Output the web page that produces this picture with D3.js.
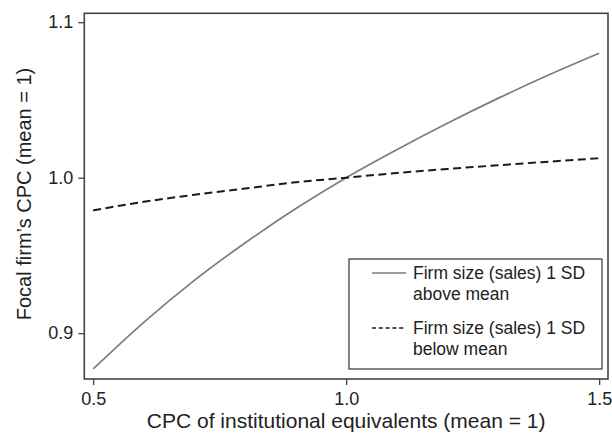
<!DOCTYPE html>
<html>
<head>
<meta charset="utf-8">
<script src="https://cdn.jsdelivr.net/npm/d3@7"></script>
<style>
  html, body { margin: 0; padding: 0; background: #fff; }
  svg { display: block; }
  text { font-family: "Liberation Sans", Arial, Helvetica, sans-serif; fill: #222; }
</style>
</head>
<body>
<svg id="chart" width="612" height="443"></svg>
<script>
// CPC of institutional equivalents (mean = 1)
const xValues = [0.5, 0.6, 0.7, 0.8, 0.9, 1.0, 1.1, 1.2, 1.3, 1.4, 1.5];
// Focal firm's CPC, firm size 1 SD above mean
const aboveMean = [0.877, 0.907, 0.934, 0.958, 0.980, 1.000, 1.018, 1.035, 1.051, 1.066, 1.080];
// Focal firm's CPC, firm size 1 SD below mean
const belowMean = [0.979, 0.9845, 0.989, 0.993, 0.997, 1.000, 1.003, 1.0056, 1.008, 1.0103, 1.0125];

const xTicks = [0.5, 1.0, 1.5];
const yTicks = [0.9, 1.0, 1.1];
const legendLabels = [
  ["Firm size (sales) 1 SD", "above mean"],
  ["Firm size (sales) 1 SD", "below mean"]
];

const svg = d3.select("#chart");
const plot = { left: 84.3, right: 608, top: 13.3, bottom: 379 };

const x = d3.scaleLinear().domain([0.4825, 1.5175]).range([plot.left, plot.right]);
const y = d3.scaleLinear().domain([0.87055, 1.10572]).range([plot.bottom, plot.top]);

const fmt = d3.format(".1f");
const axisColor = "#444";
const fontFamily = '"Liberation Sans", Arial, Helvetica, sans-serif';

// axes (ticks outside the frame)
const gx = svg.append("g")
  .attr("transform", `translate(0,${plot.bottom})`)
  .call(d3.axisBottom(x).tickValues(xTicks).tickFormat(fmt).tickSize(6).tickSizeOuter(0).tickPadding(7));
const gy = svg.append("g")
  .attr("transform", `translate(${plot.left},0)`)
  .call(d3.axisLeft(y).tickValues(yTicks).tickFormat(fmt).tickSize(6).tickSizeOuter(0).tickPadding(5));

[gx, gy].forEach(g => {
  g.select(".domain").remove();
  g.selectAll(".tick line").attr("stroke", axisColor).attr("stroke-width", 1.3);
  g.selectAll(".tick text")
    .style("font-family", fontFamily)
    .style("font-size", "18px")
    .attr("fill", "#222");
});

// plot frame
svg.append("rect")
  .attr("x", plot.left).attr("y", plot.top)
  .attr("width", plot.right - plot.left).attr("height", plot.bottom - plot.top)
  .attr("fill", "none").attr("stroke", axisColor).attr("stroke-width", 1.6);

// curves
const line = d3.line()
  .x(d => x(d[0]))
  .y(d => y(d[1]))
  .curve(d3.curveMonotoneX);

svg.append("path")
  .datum(xValues.map((v, i) => [v, aboveMean[i]]))
  .attr("d", line)
  .attr("fill", "none")
  .attr("stroke", "#7d7d7d")
  .attr("stroke-width", 1.7);

svg.append("path")
  .datum(xValues.map((v, i) => [v, belowMean[i]]))
  .attr("d", line)
  .attr("fill", "none")
  .attr("stroke", "#1a1a1a")
  .attr("stroke-width", 2)
  .attr("stroke-dasharray", "8,4.5");

// axis titles
svg.append("text")
  .attr("x", x(1.0))
  .attr("y", 428)
  .attr("text-anchor", "middle")
  .style("font-size", "21px")
  .text("CPC of institutional equivalents (mean = 1)");

svg.append("text")
  .attr("transform", "translate(31,194) rotate(-90)")
  .attr("text-anchor", "middle")
  .style("font-size", "20px")
  .text("Focal firm\u2019s CPC (mean = 1)");

// legend
const lg = { left: 349, right: 602, top: 259, bottom: 369 };
svg.append("rect")
  .attr("x", lg.left).attr("y", lg.top)
  .attr("width", lg.right - lg.left).attr("height", lg.bottom - lg.top)
  .attr("fill", "#fff").attr("stroke", "#333").attr("stroke-width", 1.2);

const legendStyles = [
  { stroke: "#7d7d7d", width: 1.7, dash: null },
  { stroke: "#1a1a1a", width: 1.6, dash: "4,2.8" }
];
legendLabels.forEach((lines, i) => {
  const rowY = lg.top + 14 + i * 55;
  svg.append("line")
    .attr("x1", lg.left + 23).attr("x2", lg.left + 57)
    .attr("y1", rowY).attr("y2", rowY)
    .attr("stroke", legendStyles[i].stroke)
    .attr("stroke-width", legendStyles[i].width)
    .attr("stroke-dasharray", legendStyles[i].dash);
  lines.forEach((t, j) => {
    svg.append("text")
      .attr("x", lg.left + 64)
      .attr("y", rowY + 6 + j * 20.5)
      .style("font-size", "17.5px")
      .text(t);
  });
});
</script>
</body>
</html>
